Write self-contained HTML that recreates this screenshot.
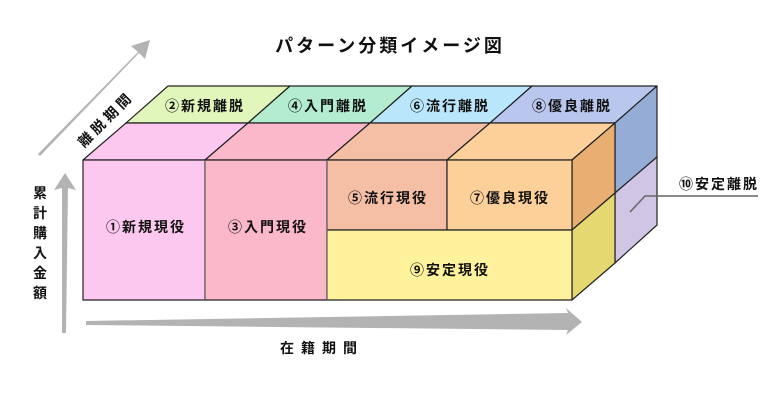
<!DOCTYPE html>
<html><head><meta charset="utf-8"><style>
body{margin:0;background:#fff}
svg text{font-family:"Liberation Sans","Noto Sans CJK JP",sans-serif;font-weight:bold;fill:#111}
</style></head><body>
<svg width="780" height="400" viewBox="0 0 780 400" xmlns="http://www.w3.org/2000/svg">
<polygon points="38,154 138,52 131,46 150,40 145,59 139,53 40,156" fill="#b3b3b3"/>
<polygon points="62,333 62,188 54,190 65,173 76,190 68,188 66,333" fill="#b3b3b3"/>
<polygon points="86,321 568,313 566,308 582,322 566,335 568,330 86,325" fill="#b3b3b3"/>
<text x="390" y="52" font-size="18" text-anchor="middle" letter-spacing="3">パターン分類イメージ図</text>
<text transform="translate(84,148) rotate(-45)" font-size="14" letter-spacing="4">離脱期間</text>
<g font-size="14" text-anchor="middle">
<text x="40" y="198">累</text><text x="40" y="218">計</text><text x="40" y="238">購</text><text x="40" y="258">入</text><text x="40" y="278">金</text><text x="40" y="298">額</text>
</g>
<text x="322" y="353" font-size="14" text-anchor="middle" letter-spacing="7">在籍期間</text>
<g stroke="#222" stroke-width="1.2" stroke-linejoin="round">
<polygon points="126,123 168,86 290,86 248,123" fill="#e0f6bb"/>
<polygon points="248,123 290,86 412,86 370,123" fill="#b4ecd0"/>
<polygon points="370,123 412,86 532,86 490,123" fill="#b9e6fb"/>
<polygon points="490,123 532,86 657,86 615,123" fill="#b9c7ef"/>
<polygon points="83,160 126,123 248,123 205,160" fill="#fdc8ef"/>
<polygon points="205,160 248,123 370,123 327,160" fill="#fbb8cb"/>
<polygon points="327,160 370,123 490,123 447,160" fill="#f5bfa6"/>
<polygon points="447,160 490,123 615,123 572,160" fill="#fdd09a"/>
<polygon points="615,123 657,86 657,157 615,193" fill="#94acd6"/>
<polygon points="615,193 657,157 657,225 615,263" fill="#d0c5e4"/>
<polygon points="572,160 615,123 615,193 572,230" fill="#e8ae72"/>
<polygon points="572,230 615,193 615,263 572,300" fill="#e6d870"/>
<rect x="83" y="160" width="122" height="140" fill="#fdc8ef"/>
<rect x="205" y="160" width="122" height="140" fill="#fbb8cb"/>
<rect x="327" y="160" width="120" height="70" fill="#f5bfa6"/>
<rect x="447" y="160" width="125" height="70" fill="#fdd09a"/>
<rect x="327" y="230" width="245" height="70" fill="#fef29c"/>
</g>
<g stroke="#666" stroke-width="1"><line x1="205" y1="160" x2="205" y2="300"/><line x1="327" y1="160" x2="327" y2="300"/></g>
<polyline points="630,212 645,196 758,196" fill="none" stroke="#666" stroke-width="1.5"/>
<g font-size="14" text-anchor="middle" letter-spacing="2">
<text x="205" y="111">②新規離脱</text>
<text x="328" y="111">④入門離脱</text>
<text x="450" y="111">⑥流行離脱</text>
<text x="572" y="111">⑧優良離脱</text>
<text x="146" y="232">①新規現役</text>
<text x="268" y="232">③入門現役</text>
<text x="388" y="203">⑤流行現役</text>
<text x="510" y="203">⑦優良現役</text>
<text x="450" y="275">⑨安定現役</text>
<text x="719" y="189">⑩安定離脱</text>
</g>
</svg>
</body></html>
